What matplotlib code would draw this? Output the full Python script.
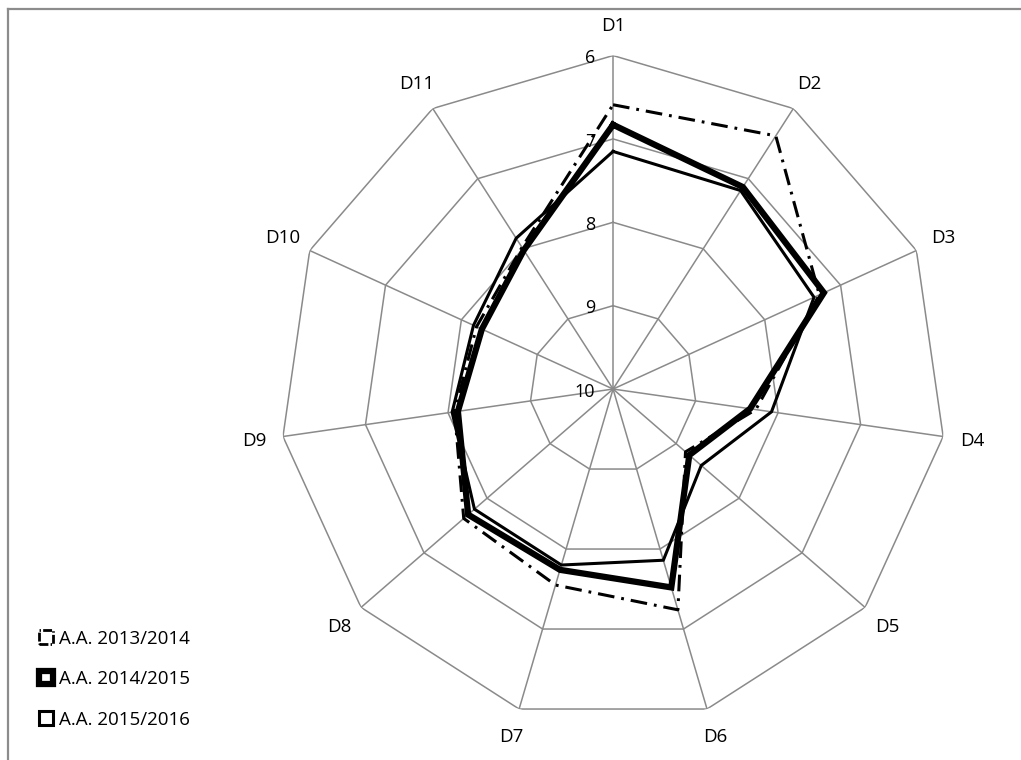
import numpy as np
import matplotlib
matplotlib.use("Agg")
import matplotlib.pyplot as plt
import matplotlib.patches as mpatches
from matplotlib.lines import Line2D

plt.rcParams['font.family'] = ['Open Sans', 'DejaVu Sans']
plt.rcParams['lines.scale_dashes'] = False

categories = ["D1", "D2", "D3", "D4", "D5", "D6", "D7", "D8", "D9", "D10", "D11"]
a1314 = [6.59, 6.39, 7.28, 8.27, 8.85, 7.24, 7.55, 7.63, 8.08, 8.20, 7.98]
a1415 = [6.83, 7.12, 7.22, 8.34, 8.79, 7.52, 7.74, 7.70, 8.12, 8.27, 8.02]
a1516 = [7.15, 7.17, 7.35, 8.08, 8.60, 7.86, 7.80, 7.80, 8.05, 8.16, 7.85]
series_names = ["A.A. 2013/2014", "A.A. 2014/2015", "A.A. 2015/2016"]
rings = [6, 7, 8, 9]
tick_labels = ["6", "7", "8", "9", "10"]
tick_values = [6, 7, 8, 9, 10]

grid_col = "#8a8a8a"

fig = plt.figure(figsize=(10.21, 7.60), dpi=100)
ax = fig.add_axes([0.2738, 0.0493, 0.6533, 0.8776], projection="polar")
ax.set_theta_zero_location("N")
ax.set_theta_direction(-1)
ax.set_ylim(10, 6)
ax.set_axis_off()

n = len(categories)
theta = np.linspace(0, 2 * np.pi, n, endpoint=False)
theta_c = np.append(theta, theta[0])

# polygon grid + spokes
for r in rings:
    ax.plot(theta_c, [r] * (n + 1), color=grid_col, lw=1.1, zorder=1)
for t in theta:
    ax.plot([t, t], [10, 6], color=grid_col, lw=1.1, zorder=1)


def closed(v):
    return v + v[:1]


ax.plot(theta_c, closed(a1314), color="black", lw=2.2, dashes=(12, 5, 2, 5), zorder=3)
ax.plot(theta_c, closed(a1415), color="black", lw=4.5, zorder=3, solid_joinstyle="miter")
ax.plot(theta_c, closed(a1516), color="black", lw=2.2, zorder=4, solid_joinstyle="miter")

# category labels
for t, lab in zip(theta, categories):
    ax.text(t, 5.65, lab, ha="center", va="center", fontsize=13.5, clip_on=False)

# radial tick labels
for v, lab in zip(tick_values, tick_labels):
    ax.annotate(lab, xy=(0, v), xytext=(-13, -2), textcoords="offset points",
                ha="right", va="center", fontsize=13)

# legend
handles = [
    mpatches.Patch(facecolor="white", edgecolor="black", linewidth=2, linestyle="-."),
    mpatches.Patch(facecolor="white", edgecolor="black", linewidth=4.5),
    mpatches.Patch(facecolor="white", edgecolor="black", linewidth=2.2),
]
fig.legend(handles, series_names, loc="lower left", bbox_to_anchor=(0.029, 0.029),
           frameon=False, fontsize=13.5, handlelength=0.75, handleheight=0.75,
           handletextpad=0.3, labelspacing=1.2, borderpad=0)

# frame (top and left only)
fig.add_artist(Line2D([8 / 1021, 1], [1 - 8.5 / 760, 1 - 8.5 / 760], color="#8c8c8c", lw=1.6))
fig.add_artist(Line2D([8 / 1021, 8 / 1021], [0, 1 - 8.5 / 760], color="#8c8c8c", lw=1.6))

fig.savefig("out.png", dpi=100)
